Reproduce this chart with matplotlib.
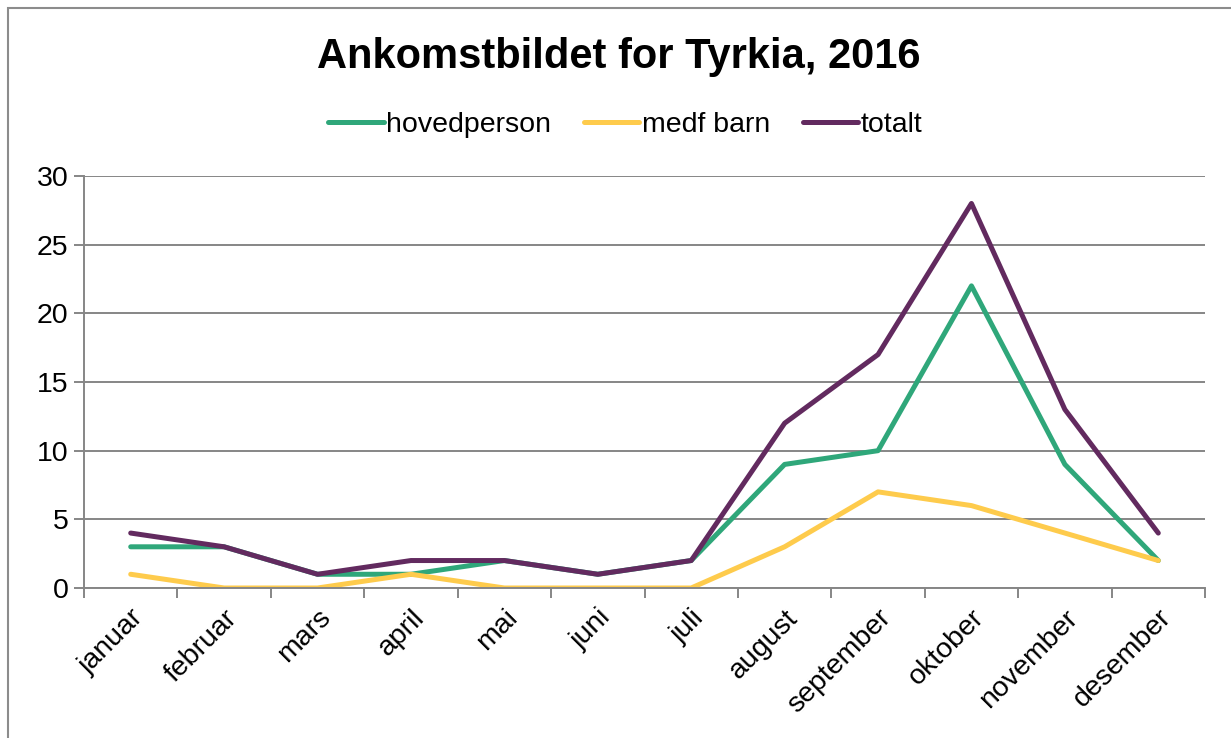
import matplotlib.pyplot as plt
from matplotlib.patches import Rectangle

plt.rcParams['font.family'] = ['Liberation Sans', 'DejaVu Sans']

months = ['januar', 'februar', 'mars', 'april', 'mai', 'juni', 'juli',
          'august', 'september', 'oktober', 'november', 'desember']
hovedperson = [3, 3, 1, 1, 2, 1, 2, 9, 10, 22, 9, 2]
medf_barn = [1, 0, 0, 1, 0, 0, 0, 3, 7, 6, 4, 2]
totalt = [4, 3, 1, 2, 2, 1, 2, 12, 17, 28, 13, 4]

W, H = 1231, 738
fig = plt.figure(figsize=(W / 100, H / 100), dpi=100)
ax = fig.add_axes([84 / W, 1 - 588 / H, (1205 - 84) / W, (588 - 176) / H])

# outer chart border (cropped at right/bottom)
fig.patches.append(Rectangle((8 / W, -0.1), 1.2, 1 - 8 / H + 0.1,
                             transform=fig.transFigure, fill=False,
                             edgecolor='#8c8c8c', linewidth=1.5))

x = range(len(months))
lw = 3.6
ax.plot(x, hovedperson, color='#2fa77a', lw=lw, label='hovedperson', solid_capstyle='round')
ax.plot(x, medf_barn, color='#fecb4c', lw=lw, label='medf barn', solid_capstyle='round')
ax.plot(x, totalt, color='#622a5f', lw=lw, label='totalt', solid_capstyle='round')

ax.set_xlim(-0.5, len(months) - 0.5)
ax.set_ylim(0, 30)
ax.set_yticks(range(0, 31, 5))
ax.yaxis.grid(True, color='#868686', lw=1.4)
ax.set_axisbelow(True)

for s in ['top', 'right']:
    ax.spines[s].set_visible(False)
ax.spines['left'].set_color('#868686')
ax.spines['left'].set_linewidth(1.4)
ax.spines['bottom'].set_color('#868686')
ax.spines['bottom'].set_linewidth(1.4)

ax.set_xticks([i - 0.5 for i in range(len(months) + 1)], minor=False)
ax.set_xticklabels([])
ax.tick_params(axis='x', length=7, width=1.4, color='#868686')
ax.set_xticks(list(x), minor=True)
ax.set_xticklabels(months, minor=True, rotation=45, ha='right',
                   rotation_mode='anchor', fontsize=20.5)
ax.tick_params(axis='x', which='minor', length=0, pad=12)
ax.tick_params(axis='y', length=7, width=1.4, color='#868686', labelsize=20.5, pad=4)

fig.text(0.503, 1 - 57 / H, 'Ankomstbildet for Tyrkia, 2016', ha='center', va='center',
         fontsize=30, fontweight='bold')
fig.legend(loc='center', bbox_to_anchor=(0.508, 1 - 125 / H), ncol=3, frameon=False,
           fontsize=20.5, handlelength=1.95, handletextpad=0.08, columnspacing=1.15)

fig.savefig('out.png', dpi=100)
